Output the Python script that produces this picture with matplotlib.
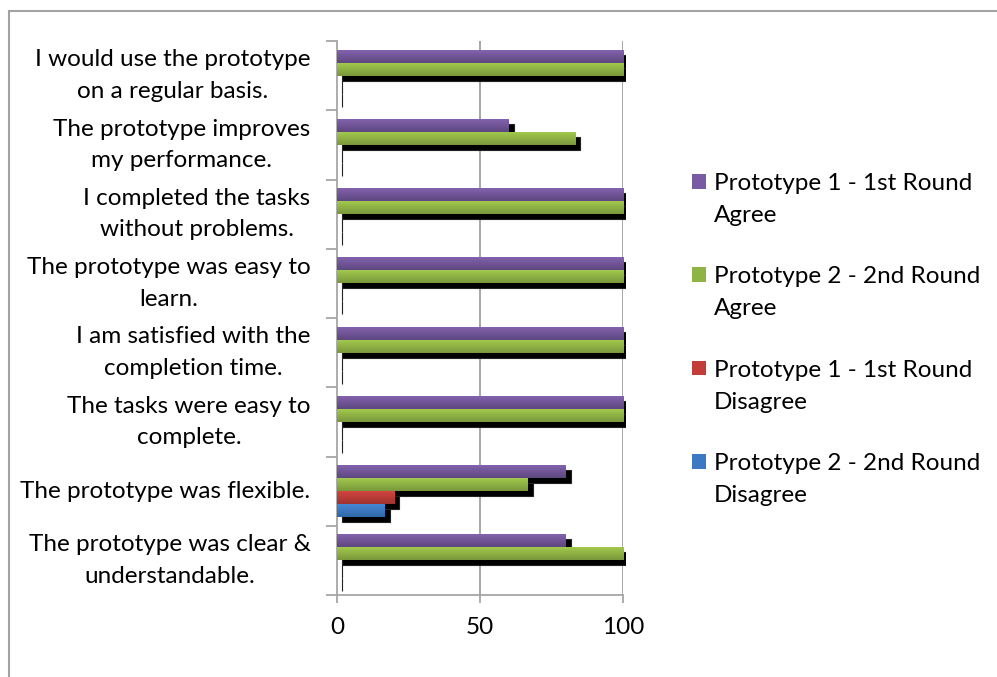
import numpy as np
import matplotlib
matplotlib.use("Agg")
import matplotlib.pyplot as plt
from matplotlib.patches import Rectangle
from matplotlib.colors import LinearSegmentedColormap
import matplotlib.transforms as mtransforms

# Survey statements (bottom to top of the chart)
statements = [
    "The prototype was clear &\nunderstandable.",
    "The prototype was flexible.",
    "The tasks were easy to\ncomplete.",
    "I am satisfied with the\ncompletion time.",
    "The prototype was easy to\nlearn.",
    "I completed the tasks\nwithout problems.",
    "The prototype improves\nmy performance.",
    "I would use the prototype\non a regular basis.",
]

# Percentage of participants per statement
p1_agree = [80, 80, 100, 100, 100, 100, 60, 100]
p2_agree = [100, 66.7, 100, 100, 100, 100, 83.3, 100]
p1_disagree = [0, 20, 0, 0, 0, 0, 0, 0]
p2_disagree = [0, 16.7, 0, 0, 0, 0, 0, 0]

series_names = [
    "Prototype 1 - 1st Round\nAgree",
    "Prototype 2 - 2nd Round\nAgree",
    "Prototype 1 - 1st Round\nDisagree",
    "Prototype 2 - 2nd Round\nDisagree",
]
series_values = [p1_agree, p2_agree, p1_disagree, p2_disagree]

x_ticks = [0, 50, 100]

# (light top, dark bottom) gradient stops per series
gradients = [
    ("#8262ad", "#5e4780"),
    ("#a2c94c", "#79973b"),
    ("#d2443f", "#9e3330"),
    ("#4687d4", "#2f68a8"),
]
legend_colors = ["#7a5aa3", "#8fb446", "#c23c38", "#3d78c2"]

FONT = "Lato"
FS = 17.5
plt.rcParams["font.family"] = [FONT, "DejaVu Sans"]

W, H = 997, 677
fig = plt.figure(figsize=(W / 100, H / 100), dpi=100)
fig.patch.set_facecolor("white")

# chart-area border
fig.patches.append(Rectangle((8.5 / W, -0.05), 1.2, 1 - 10.5 / H + 0.05,
                             transform=fig.transFigure, fill=False,
                             edgecolor="#a3a3a3", linewidth=1.5))

ax = fig.add_axes([337 / W, 1 - 595 / H, (623 - 337) / W, (595 - 41) / H])

n = len(statements)
y = np.arange(n)
h = 0.1875
offsets = [1.5 * h, 0.5 * h, -0.5 * h, -1.5 * h]

# shadow: 5 px right, 5 px down
shadow_tf = ax.transData + mtransforms.ScaledTranslation(5 / 100, -5 / 100, fig.dpi_scale_trans)
clip_rect = Rectangle((0, 0), 1.01, 1.0, transform=ax.transAxes, visible=False)
ax.add_patch(clip_rect)

for vals, off in zip(series_values, offsets):
    for yi, v in zip(y, vals):
        sh = Rectangle((0, yi + off - h / 2), v, h, transform=shadow_tf,
                       facecolor="black", edgecolor="#222222", linewidth=0.8,
                       zorder=2)
        ax.add_patch(sh)
        sh.set_clip_path(clip_rect)

for vals, off, (c_top, c_bot), name in zip(series_values, offsets, gradients, series_names):
    bars = ax.barh(y + off, vals, height=h, color=c_top, zorder=3, linewidth=0)
    cmap = LinearSegmentedColormap.from_list("g", [c_bot, c_top])
    grad = np.linspace(0, 1, 64).reshape(-1, 1)
    for b in bars:
        bx, by, bw, bh = b.get_x(), b.get_y(), b.get_width(), b.get_height()
        if bw <= 0:
            continue
        ax.imshow(grad, extent=[bx, bx + bw, by, by + bh], origin="lower",
                  cmap=cmap, aspect="auto", zorder=4, interpolation="bilinear")

ax.set_xlim(0, 100)
ax.set_ylim(-0.5, n - 0.5)

# vertical gridlines
for xv in x_ticks[1:]:
    ax.axvline(xv, color="#a0a0a0", linewidth=1.3, zorder=1)

for side in ["top", "right"]:
    ax.spines[side].set_visible(False)
for side in ["left", "bottom"]:
    ax.spines[side].set_color("#a6a6a6")
    ax.spines[side].set_linewidth(1.3)

ax.set_xticks(x_ticks)
ax.set_xticklabels([str(t) for t in x_ticks], fontsize=FS)
ax.tick_params(axis="x", length=6, width=1.3, color="#a6a6a6", pad=10)

# labels at category centers, tick marks at category boundaries
ax.set_yticks(y)
ax.set_yticklabels(statements, fontsize=FS)
for lbl in ax.get_yticklabels():
    lbl.set_multialignment("center")
    lbl.set_linespacing(1.63)
    lbl.set_verticalalignment("center")
ax.tick_params(axis="y", which="major", length=0, pad=19)
ax.set_yticks(np.arange(n + 1) - 0.5, minor=True)
ax.tick_params(axis="y", which="minor", length=8, width=1.3, color="#a6a6a6")

# legend
base = [190, 283.3, 376.7, 470]
for name, col, yb in zip(series_names, legend_colors, base):
    fig.patches.append(Rectangle((692 / W, 1 - (yb - 1.5) / H), 14 / W, 14.5 / H,
                                 transform=fig.transFigure, facecolor=col,
                                 edgecolor="none"))
    for k, line in enumerate(name.split("\n")):
        fig.text(714 / W, 1 - (yb + 32 * k) / H, line, fontsize=FS,
                 ha="left", va="baseline")

fig.savefig("out.png", dpi=100, facecolor="white")
